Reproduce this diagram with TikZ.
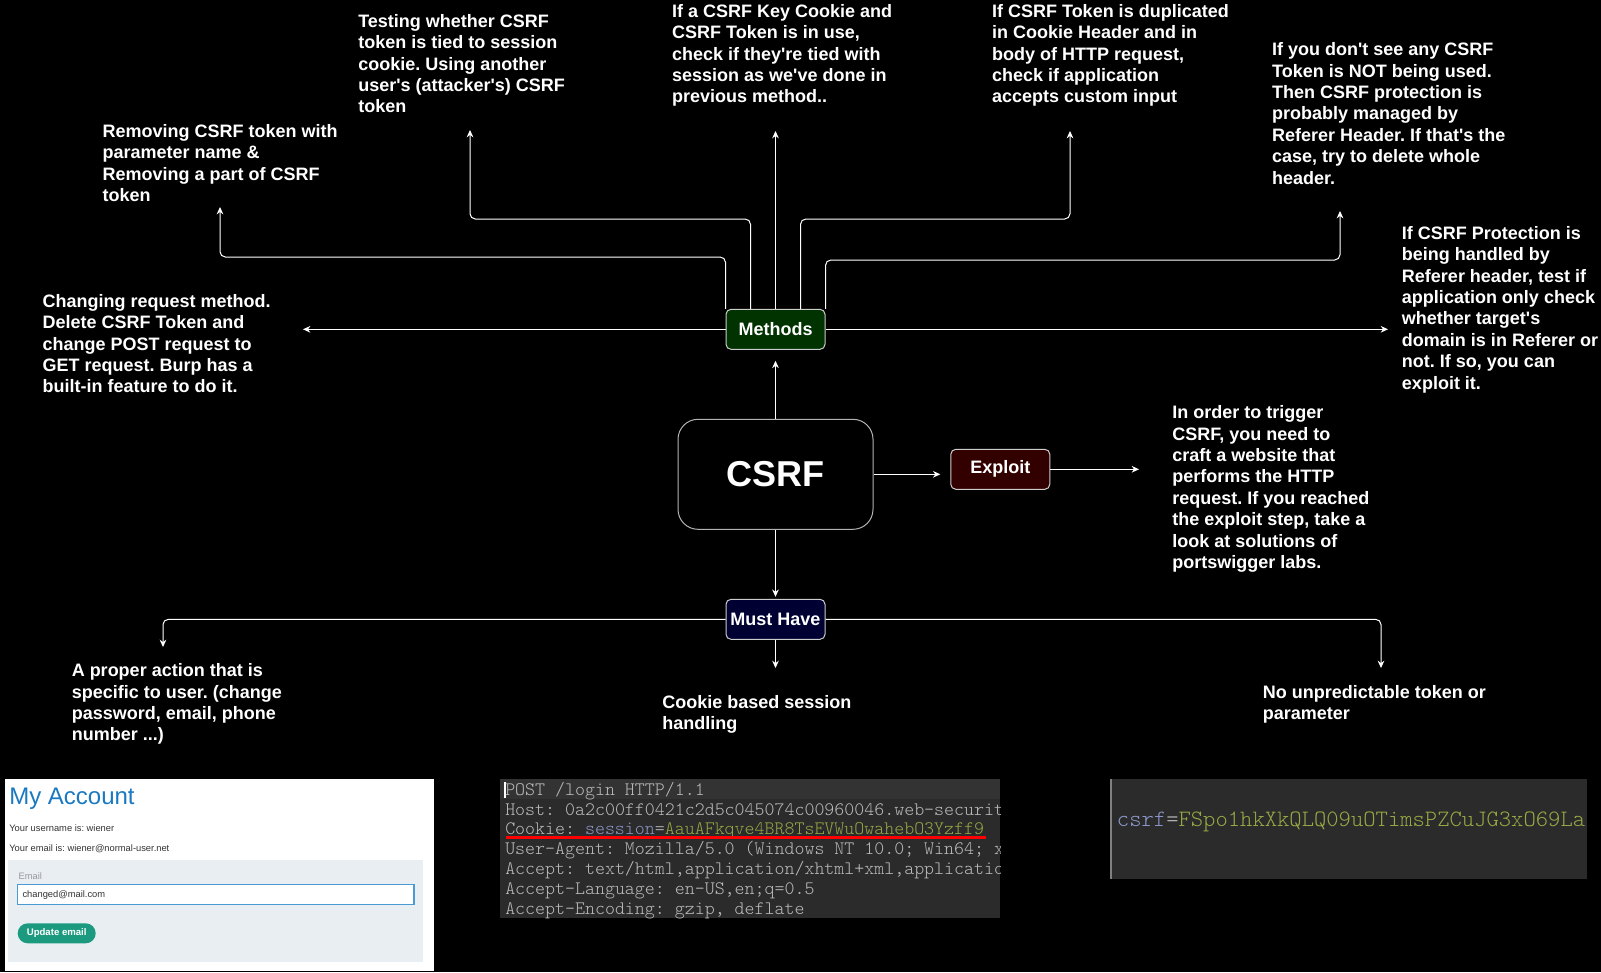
\documentclass[tikz,border=0pt]{standalone}
\usepackage{fontspec}
\newfontfamily\hv{Liberation Sans}
\newfontfamily\mono{lmmonolt10-regular.otf}
\usetikzlibrary{arrows.meta,calc}
\definecolor{bdr}{HTML}{CCCCCC}
\definecolor{bigbdr}{HTML}{B3B3B3}
\definecolor{mgreen}{HTML}{003300}
\definecolor{mnavy}{HTML}{000033}
\definecolor{mred}{HTML}{330000}
\definecolor{scrbg}{HTML}{2B2B2B}
\definecolor{scrhl}{HTML}{333333}
\definecolor{scrtxt}{HTML}{BBBBBB}
\definecolor{kblue}{HTML}{8C96C8}
\definecolor{vgreen}{HTML}{97A845}
\definecolor{acblue}{HTML}{1A79C1}
\definecolor{acpanel}{HTML}{E8EEF2}
\definecolor{actext}{HTML}{333333}
\definecolor{aclabel}{HTML}{999999}
\definecolor{acinput}{HTML}{4A9AD4}
\definecolor{acbtn}{HTML}{1C9A7F}
\newcommand{\lines}[1]{\begin{tabular}[t]{@{}l@{}}#1\end{tabular}}
\frenchspacing
\begin{document}
\frenchspacing
\begin{tikzpicture}[x=0.75pt,y=-0.75pt,
  txt/.style={anchor=base west, inner sep=0, text=white,
    font=\hv\fontsize{13.5}{16.05}\selectfont\bfseries},
  boxstyle/.style={rectangle, rounded corners=3.75pt, draw=bdr, line width=0.75pt,
    minimum width=74.25pt, minimum height=30pt, inner sep=0, text=white,
    font=\hv\fontsize{13.5}{16}\selectfont\bfseries},
  bigbox/.style={rectangle, rounded corners=15pt, draw=bigbdr, line width=0.75pt,
    minimum width=146.25pt, minimum height=82.5pt, inner sep=0, text=white, fill=black,
    font=\hv\fontsize{27}{32}\selectfont\bfseries},
  conn/.style={draw=white, line width=0.75pt, rounded corners=4pt,
    -{Stealth[length=5.5pt,width=5pt,inset=1.8pt]}},
  monot/.style={anchor=base west, inner sep=0, text=scrtxt,
    font=\mono\fontsize{14.25}{16}\selectfont\frenchspacing},
  acsmall/.style={anchor=base west, inner sep=0, text=actext,
    font=\hv\fontsize{7}{8}\selectfont}
]
\fill[black] (0,0) rectangle (1601,972);
\useasboundingbox (0,0) rectangle (1601,972);

% main boxes
\node[bigbox] (csrf) at (775.5,474.3) {CSRF};
\node[boxstyle, fill=mgreen] (methods) at (775.5,329.3) {Methods};
\node[boxstyle, fill=mnavy] (musthave) at (775.5,619.3) {Must Have};
\node[boxstyle, fill=mred] (exploit) at (1000.3,469.3) {Exploit};

% text blocks
\node[txt] (tTest) at (358,27.3) {\lines{Testing whether CSRF\\token is tied to session\\cookie. Using another\\user's (attacker's) CSRF\\token}};
\node[txt] (tRemove) at (102.3,137.3) {\lines{Removing CSRF token with\\parameter name \&\\Removing a part of CSRF\\token}};
\node[txt] (tKey) at (671.9,17.3) {\lines{If a CSRF Key Cookie and\\CSRF Token is in use,\\check if they're tied with\\session as we've done in\\previous method..}};
\node[txt] (tDup) at (991.8,17.3) {\lines{If CSRF Token is duplicated\\in Cookie Header and in\\body of HTTP request,\\check if application\\accepts custom input}};
\node[txt] (tNone) at (1271.8,55.7) {\lines{If you don't see any CSRF\\Token is NOT being used.\\Then CSRF protection is\\probably managed by\\Referer Header. If that's the\\case, try to delete whole\\header.}};
\node[txt] (tRef) at (1401.7,239.3) {\lines{If CSRF Protection is\\being handled by\\Referer header, test if\\application only check\\whether target's\\domain is in Referer or\\not. If so, you can\\exploit it.}};
\node[txt] (tChange) at (42.4,307.3) {\lines{Changing request method.\\Delete CSRF Token and\\change POST request to\\GET request. Burp has a\\built-in feature to do it.}};
\node[txt] (tExploit) at (1172,418.6) {\lines{In order to trigger\\CSRF, you need to\\craft a website that\\performs the HTTP\\request. If you reached\\the exploit step, take a\\look at solutions of\\portswigger labs.}};
\node[txt] (tAction) at (71.5,676.7) {\lines{A proper action that is\\specific to user. (change\\password, email, phone\\number ...)}};
\node[txt] (tCookie) at (662,708.3) {\lines{Cookie based session\\handling}};
\node[txt] (tToken) at (1262.5,698.3) {\lines{No unpredictable token or\\parameter}};

% arrow end points
\coordinate (aTest) at (470,130);
\coordinate (aRemove) at (220,207);
\coordinate (aKey) at (775.5,131);
\coordinate (aDup) at (1070,131);
\coordinate (aNone) at (1340,211);
\coordinate (aRef) at (1388,329.3);
\coordinate (aChange) at (303,329.3);
\coordinate (aExploit) at (1139,469.3);
\coordinate (aAction) at (163,647);
\coordinate (aCookie) at (775.5,668);
\coordinate (aToken) at (1381,668);
\coordinate (mQ1) at ($(methods.north west)!0.25!(methods.north east)$);
\coordinate (mQ3) at ($(methods.north west)!0.75!(methods.north east)$);

% connectors
\draw[conn, shorten >=8.25pt] (csrf.north) -- (methods.south);
\draw[conn, shorten >=1.5pt] (csrf.south) -- (musthave.north);
\draw[conn, shorten >=7.5pt] (csrf.east) -- (csrf.east -| exploit.west);
\draw[conn] (exploit.east) -- (aExploit);
\draw[conn] (methods.north west) |- (220,257) -- (aRemove);
\draw[conn] (mQ1) |- (470,219) -- (aTest);
\draw[conn] (methods.north) -- (aKey);
\draw[conn] (mQ3) |- (1070,219) -- (aDup);
\draw[conn] (methods.north east) |- (1340,260) -- (aNone);
\draw[conn] (methods.west) -- (aChange);
\draw[conn] (methods.east) -- (aRef);
\draw[conn] (musthave.west) -| (aAction);
\draw[conn] (musthave.south) -- (aCookie);
\draw[conn] (musthave.east) -| (aToken);

% screenshot 1: My Account
\fill[white] (5,779) rectangle (434,971);
\node[anchor=base west, inner sep=0, text=acblue, font=\hv\fontsize{18}{20}\selectfont] (acTitle) at (9,804.5) {My Account};
\node[acsmall] (acUser) at (9,831.7) {Your username is: wiener};
\node[acsmall] (acMail) at (9,851) {Your email is: wiener@normal-user.net};
\fill[acpanel] (8.3,860) rectangle (423.3,962.3);
\node[acsmall, text=aclabel] (acLabel) at (18.3,879.5) {Email};
\draw[acinput, fill=white, line width=1.1pt] (17.7,884.3) rectangle (414,904.7);
\node[acsmall] (acInput) at (22.3,897.3) {changed@mail.com};
\node[rectangle, rounded corners=7.5pt, fill=acbtn, minimum width=58.5pt, minimum height=15pt, inner sep=0, text=white, font=\hv\fontsize{7.2}{8}\selectfont\bfseries] (acBtn) at (56.7,933.3) {Update email};

% screenshot 2: HTTP request
\begin{scope}
\clip (500,779) rectangle (1000,918.3);
\fill[scrbg] (500,779) rectangle (1000,918.3);
\fill[scrhl] (500,779) rectangle (1000,799);
\fill[white] (504,781.7) rectangle (506,798.3);
\node[monot] (h1) at (505,795) {POST /login HTTP/1.1};
\node[monot] (h2) at (505,815) {Host: 0a2c00ff0421c2d5c045074c00960046.web-securit};
\node[monot] (h3) at (505,834.3) {Cookie: \textcolor{kblue}{session}=\textcolor{vgreen}{AauAFkqve4BR8TsEVWuOwahebO3Yzff9}};
\node[monot] (h4) at (505,854.3) {User-Agent: Mozilla/5.0 (Windows NT 10.0; Win64; x};
\node[monot] (h5) at (505,874) {Accept: text/html,application/xhtml+xml,applicatio};
\node[monot] (h6) at (505,894) {Accept-Language: en-US,en;q=0.5};
\node[monot] (h7) at (505,914) {Accept-Encoding: gzip, deflate};
\draw[red, line width=2.25pt] (506,837) -- (986,837);
\end{scope}

% screenshot 3: csrf token
\begin{scope}
\clip (1110,779) rectangle (1587,879);
\fill[scrbg] (1110,779) rectangle (1587,879);
\fill[gray] (1110,779) rectangle (1111.5,879);
\node[monot, font=\mono\fontsize{17.6}{19}\selectfont\frenchspacing] (ct) at (1116.7,826.7) {\textcolor{kblue}{csrf}=\textcolor{vgreen}{FSpo1hkXkQLQ09uOTimsPZCuJG3xO69La}};
\end{scope}
\end{tikzpicture}
\end{document}
